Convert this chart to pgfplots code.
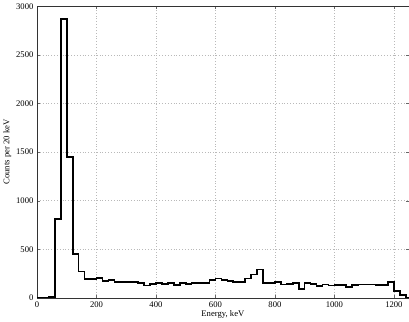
\documentclass[border=0pt]{standalone}
\usepackage{fontspec}
\setmainfont{Liberation Serif}
\usepackage{pgfplots}
\pgfplotsset{compat=1.18}

\begin{document}
\begin{tikzpicture}
\begin{axis}[
    scale only axis,
    width=366pt, height=287pt,
    xmin=0, xmax=1250,
    ymin=0, ymax=3000,
    xtick={0,200,...,1200},
    ytick={0,500,...,3000},
    tick align=inside,
    major tick length=3pt,
    grid=major,
    major grid style={dash pattern=on 0.6pt off 2.2pt, gray!55, line width=0.4pt},
    axis line style={black!80, line width=0.5pt},
    tick style={black!60},
    xlabel={Energy, keV},
    ylabel={Counts per 20 keV},
    xlabel style={yshift=4pt},
    ylabel style={yshift=-2pt},
    font=\fontsize{8.5}{10}\selectfont,
    ticklabel style={font=\fontsize{8.5}{10}\selectfont},
    /pgf/number format/assume math mode=true,
    /pgf/number format/set thousands separator={},
]
\addplot[const plot mark left, black, line width=1.6pt, mark=none] coordinates {
(0,5) (20,5) (40,8) (60,810) (80,2870) (100,1450) (120,450) (140,270)
(160,195) (180,195) (200,205) (220,170) (240,180) (260,160) (280,160)
(300,165) (320,160) (340,150) (360,125) (380,140) (400,150) (420,145)
(440,150) (460,130) (480,155) (500,140) (520,150) (540,155) (560,150)
(580,185) (600,200) (620,180) (640,175) (660,160) (680,165) (700,200)
(720,240) (740,290) (760,150) (780,155) (800,160) (820,135) (840,140)
(860,155) (880,90) (900,150) (920,145) (940,120) (960,135) (980,125)
(1000,130) (1020,130) (1040,110) (1060,130) (1080,135) (1100,135)
(1120,135) (1140,130) (1160,130) (1180,165) (1200,70) (1220,30) (1240,0) (1250,0)
};
\end{axis}
\end{tikzpicture}
\end{document}
